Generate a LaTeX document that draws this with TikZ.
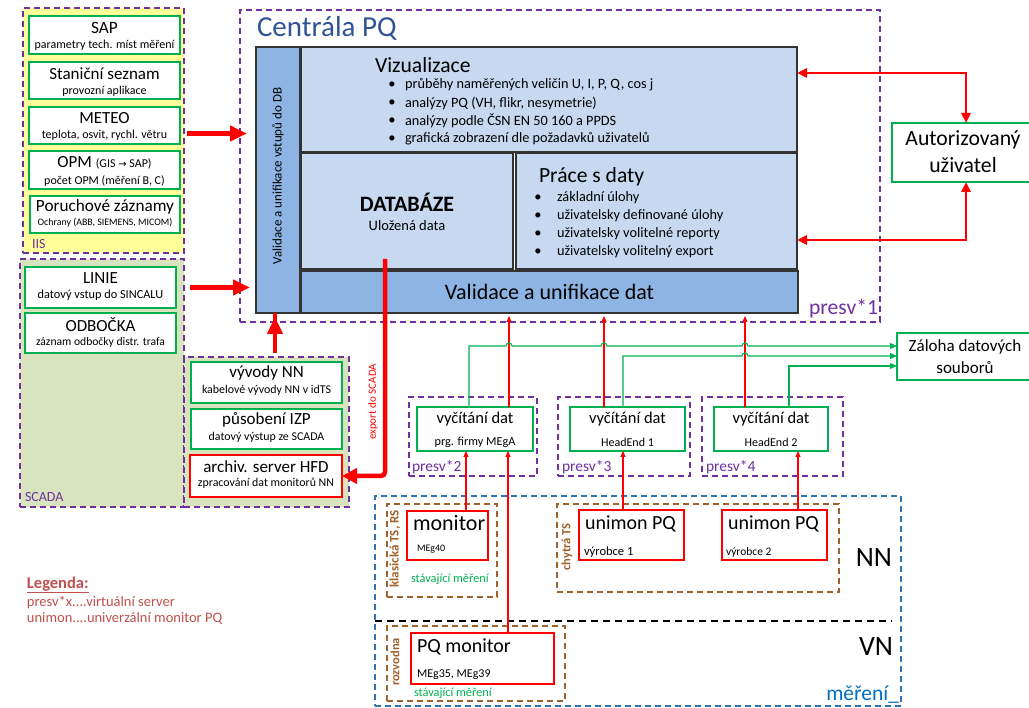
\documentclass[tikz,border=0pt]{standalone}
\usepackage{fontspec}
\setmainfont{Carlito}
\newfontfamily\djv{DejaVu Sans}
\usetikzlibrary{arrows.meta,calc}
\definecolor{cpurple}{HTML}{7030A0}
\definecolor{cgreen}{HTML}{00B050}
\definecolor{cred}{HTML}{FF0000}
\definecolor{cbrown}{HTML}{A0612A}
\definecolor{cblue}{HTML}{2E75B6}
\definecolor{cbluet}{HTML}{0070C0}
\definecolor{ctitle}{HTML}{2F5496}
\definecolor{clight}{HTML}{C6D9F1}
\definecolor{cmid}{HTML}{8DB4E2}
\definecolor{cyellow}{HTML}{FFFF99}
\definecolor{colive}{HTML}{D7E4BD}
\definecolor{clegend}{HTML}{C0504D}
\definecolor{cgtext}{HTML}{00B050}
\begin{document}
\begin{tikzpicture}[x=1pt,y=-1pt,
  every node/.style={inner sep=0pt, outer sep=0pt},
  grp/.style={draw=cpurple, line width=1.1pt, dash pattern=on 6pt off 4pt, rectangle, anchor=north west},
  gbox/.style={draw=cgreen, fill=white, line width=1.2pt, rectangle, anchor=north west},
  rbox/.style={draw=cred, fill=white, line width=1.2pt, rectangle, anchor=north west},
  cbox/.style={draw=black!80, line width=1.2pt, rectangle, anchor=north west},
  brgrp/.style={draw=cbrown, line width=1.1pt, dash pattern=on 6pt off 4pt, rectangle, anchor=north west},
  bigarr/.style={draw=cred, line width=4.5pt, -{Triangle[length=17pt,width=15pt]}},
  redarr/.style={draw=cred, line width=2.5pt},
  thinred/.style={draw=cred, line width=1.1pt, -{Triangle[length=6pt,width=5pt]}},
  grline/.style={draw=cgreen, line width=1.1pt, -{Triangle[length=7pt,width=6pt]}},
  fs/.style={font=\fontsize{#1}{#1}\selectfont},
  bfs/.style={font=\bfseries\fontsize{#1}{#1}\selectfont},
]
\useasboundingbox (0,0) rectangle (1029,708);

% ---------------- IIS group
\node[grp, fill=cyellow, minimum width=161, minimum height=245] (iis) at (23,8) {};
\node[gbox, minimum width=151, minimum height=38] (sap) at (29,16) {};
\node[fs=17.3] at ($(sap.north)+(0,12)$) {SAP};
\node[fs=12] at ($(sap.north)+(0,29)$) {parametry tech. míst měření};
\node[gbox, minimum width=151, minimum height=37] (stan) at (29,62) {};
\node[fs=17] at ($(stan.north)+(0,12)$) {Staniční seznam};
\node[fs=12] at ($(stan.north)+(0,29)$) {provozní aplikace};
\node[gbox, minimum width=151, minimum height=37] (meteo) at (29,107) {};
\node[fs=17] at ($(meteo.north)+(0,11)$) {METEO};
\node[fs=12] at ($(meteo.north)+(0,28)$) {teplota, osvit, rychl. větru};
\node[gbox, minimum width=151, minimum height=38] (opm) at (29,151) {};
\node[fs=17] at ($(opm.north)+(0,12)$) {OPM {\fontsize{12}{12}\selectfont(GIS {\djv\fontsize{10}{10}\selectfont→} SAP)}};
\node[fs=12] at ($(opm.north)+(0,30)$) {počet OPM (měření B, C)};
\node[gbox, minimum width=150, minimum height=37] (poru) at (30,196) {};
\node[fs=17.2] at ($(poru.north)+(0,11)$) {Poruchové záznamy};
\node[fs=9.9] at ($(poru.north)+(0,27)$) {Ochrany (ABB, SIEMENS, MICOM)};
\node[fs=14, text=cpurple, anchor=west] at ($(iis.south west)+(9,-9)$) {IIS};

% ---------------- SCADA group
\node[grp, fill=colive, minimum width=164, minimum height=248] (scada) at (20,259) {};
\node[grp, fill=colive, minimum width=165, minimum height=150] (scada2) at (184,357) {};
\node[gbox, minimum width=151, minimum height=41] (linie) at (25,267) {};
\node[fs=17] at ($(linie.north)+(0,11)$) {LINIE};
\node[fs=12.3] at ($(linie.north)+(0,28)$) {datový vstup do SINCALU};
\node[gbox, minimum width=151, minimum height=40] (odb) at (25,313) {};
\node[fs=17] at ($(odb.north)+(0,12)$) {ODBOČKA};
\node[fs=11.6] at ($(odb.north)+(0,29)$) {záznam odbočky distr. trafa};
\node[gbox, minimum width=151, minimum height=41] (vyv) at (191,362) {};
\node[fs=17] at ($(vyv.north)+(0,11)$) {vývody NN};
\node[fs=11.9] at ($(vyv.north)+(0,28)$) {kabelové vývody NN v idTS};
\node[gbox, minimum width=151, minimum height=40] (izp) at (191,409) {};
\node[fs=17] at ($(izp.north)+(0,11)$) {působení IZP};
\node[fs=11.9] at ($(izp.north)+(0,28)$) {datový výstup ze SCADA};
\node[rbox, minimum width=152, minimum height=42] (hfd) at (190,455) {};
\node[fs=17] at ($(hfd.north)+(0,12)$) {archiv. server HFD};
\node[fs=11.9] at ($(hfd.north)+(0,28)$) {zpracování dat monitorů NN};
\node[fs=14, text=cpurple, anchor=west] (scadalbl) at (25,497) {SCADA};

% ---------------- Centrala PQ
\node[grp, minimum width=640, minimum height=312] (centr) at (240,10) {};
\node[fs=29, text=ctitle, anchor=base west] (ctit) at (257,37) {Centrála PQ};
\node[cbox, fill=cmid, minimum width=44, minimum height=266] (vstup) at (256,47) {};
\node[fs=13, rotate=90] at ($(vstup.center)+(0,-4)$) {Validace a unifikace vstupů do DB};
\node[cbox, fill=clight, minimum width=496, minimum height=105] (viz) at (301,47) {};
\node[fs=21.6, anchor=west] at (375,65) {Vizualizace};
\foreach \yy/\tt in {85/{průběhy naměřených veličin U, I, P, Q, cos j},
                     103/{analýzy PQ (VH, flikr, nesymetrie)},
                     121/{analýzy podle ČSN EN 50 160 a PPDS},
                     139/{grafická zobrazení dle požadavků uživatelů}}{
  \node[fs=14.5] at (392,\yy) {•};
  \node[fs=14.3, anchor=west] at (405,\yy) {\tt};
}
\node[cbox, fill=clight, minimum width=212, minimum height=116] (db) at (301,153) {};
\node[bfs=22] at (407,202) {DATABÁZE};
\node[fs=14.5] at (407,226) {Uložená data};
\node[cbox, fill=clight, minimum width=281, minimum height=116] (prace) at (516,153) {};
\node[fs=21.6, anchor=west] at (539,177) {Práce s daty};
\foreach \yy/\tt in {198/{základní úlohy},
                     216/{uživatelsky definované úlohy},
                     234/{uživatelsky volitelné reporty},
                     252/{uživatelsky volitelný export}}{
  \node[fs=14.5] at (538,\yy) {•};
  \node[fs=14.3, anchor=west] at (557,\yy) {\tt};
}
\node[cbox, fill=cmid, minimum width=497, minimum height=42] (valid) at (301,271) {};
\node[fs=22] at (valid.center) {Validace a unifikace dat};
\node[fs=21.6, text=cpurple, anchor=base east] at (878,315) {presv*1};

% ---------------- right boxes
\node[gbox, minimum width=148, minimum height=59] (auth) at (892,123) {};
\node[fs=21.7] at ($(auth.north)+(-3,17)$) {Autorizovaný};
\node[fs=21.7] at ($(auth.north)+(-3,42)$) {uživatel};
\node[gbox, minimum width=136, minimum height=47] (zal) at (897,333) {};
\node[fs=17] at ($(zal.north)+(0,14)$) {Záloha datových};
\node[fs=17] at ($(zal.north)+(0,35)$) {souborů};

% ---------------- arrows into centrala
\draw[bigarr] ($(iis.east)+(3,3)$) -- ($(vstup.west |- iis.east)+(-9,3)$);
\draw[bigarr] ($(linie.east)+(14,0)$) -- ($(vstup.west |- linie.east)+(-6,0)$);
\coordinate (upA) at ($(vyv.north)+(8.5,-9)$);
\draw[bigarr] (upA) -- (upA |- vstup.south) ++(0,4);
\coordinate (ex) at ($(db.south west)+(84,-10)$);
\draw[draw=cred, line width=4.5pt, rounded corners=4pt, -{Triangle[length=15pt,width=15pt]}] (ex) |- (hfd.east);
\node[fs=11, text=cred, rotate=90] at (373,402) {export do SCADA};

% autorizovany arrows
\coordinate (ra) at ($(viz.north east)+(0,26)$);
\draw[redarr, {Triangle[length=10pt,width=9pt]}-{Triangle[length=10pt,width=9pt]}] (ra) -| (auth.north);
\coordinate (rb) at ($(prace.south east)+(0,-29)$);
\draw[redarr, {Triangle[length=10pt,width=9pt]}-{Triangle[length=10pt,width=9pt]}] (rb) -| (auth.south);

% ---------------- vycitani
\node[grp, minimum width=128, minimum height=79] (p2) at (409,397) {};
\node[grp, minimum width=132, minimum height=79] (p3) at (558,397) {};
\node[grp, minimum width=141, minimum height=79] (p4) at (702,397) {};
\node[fs=15.5, text=cpurple, anchor=base west] at (412,472) {presv*2};
\node[fs=15.5, text=cpurple, anchor=base west] at (562,472) {presv*3};
\node[fs=15.5, text=cpurple, anchor=base west] at (706,472) {presv*4};
\node[gbox, minimum width=116, minimum height=44] (v1) at (417,407) {};
\node[gbox, minimum width=115, minimum height=44] (v2) at (570,407) {};
\node[gbox, minimum width=114, minimum height=44] (v3) at (714,407) {};
\node[fs=16.5] at ($(v1.north)+(0,12)$) {vyčítání dat};
\node[fs=12.2] at ($(v1.north)+(0,35)$) {prg. firmy MEgA};
\node[fs=16.5] at ($(v2.north)+(0,12)$) {vyčítání dat};
\node[fs=12] at ($(v2.north)+(0,35)$) {HeadEnd 1};
\node[fs=16.5] at ($(v3.north)+(0,12)$) {vyčítání dat};
\node[fs=12] at ($(v3.north)+(0,35)$) {HeadEnd 2};

% red up to validace
\coordinate (vb) at ($(valid.south)+(0,3)$);
\coordinate (r1) at ($(v1.north west)+(92,0)$);
\coordinate (r2) at ($(v2.north west)+(34,0)$);
\coordinate (r3) at ($(v3.north west)+(31,0)$);
\draw[thinred] (r1) -- (r1 |- vb);
\draw[thinred] (r2) -- (r2 |- vb);
\draw[thinred] (r3) -- (r3 |- vb);

% green to zaloha
\coordinate (g1) at ($(v1.north west)+(52,0)$);
\coordinate (g2) at ($(v2.north west)+(53,0)$);
\coordinate (g3) at ($(v3.north west)+(75,0)$);
\coordinate (z1) at ($(zal.north west)+(0,13)$);
\coordinate (z2) at ($(zal.north west)+(0,23)$);
\coordinate (z3) at ($(zal.north west)+(0,33)$);
\draw[grline] (g1) -- (g1 |- z1) -- ($(r1 |- z1)+(-3,0)$) arc[start angle=180,end angle=360,radius=3]
  -- ($(r2 |- z1)+(-3,0)$) arc[start angle=180,end angle=360,radius=3]
  -- ($(r3 |- z1)+(-3,0)$) arc[start angle=180,end angle=360,radius=3] -- (z1);
\draw[grline] (g2) -- (g2 |- z2) -- ($(r3 |- z2)+(-3,0)$) arc[start angle=180,end angle=360,radius=3] -- (z2);
\draw[grline] (g3) -- (g3 |- z3) -- (z3);

% ---------------- mereni area
\node[draw=cblue, line width=1.1pt, dash pattern=on 6pt off 4pt, rectangle, anchor=north west, minimum width=526, minimum height=210] (meas) at (375,496) {};
\draw[black, line width=1.1pt, dash pattern=on 7pt off 5pt] (375,621) -- (892,621);
\node[fs=28, anchor=east] at (892,558) {NN};
\node[fs=28, anchor=east] at (893,647) {VN};
\node[fs=21.5, text=cbluet, anchor=base east] at (899,700) {měření\_};

\node[brgrp, minimum width=110, minimum height=93] (kl) at (387,504) {};
\node[brgrp, minimum width=178, minimum height=75] (rozv) at (387,626) {};
\node[brgrp, minimum width=282, minimum height=88] (chyt) at (557,504) {};
\node[bfs=13, text=cbrown, rotate=90] at (395,549) {klasická TS, RS};
\node[bfs=12.5, text=cbrown, rotate=90] at (395,662) {rozvodna};
\node[bfs=12.5, text=cbrown, rotate=90] at (567,547) {chytrá TS};

\node[rbox, minimum width=81, minimum height=49] (mon) at (407,511) {};
\node[fs=22, anchor=base west] at (413,531) {monitor};
\node[fs=10, anchor=base west] at (417,552) {MEg40};
\node[fs=12.3, text=cgtext, anchor=base west] at (411,583) {stávající měření};

\node[rbox, minimum width=143, minimum height=51] (pqm) at (411,633) {};
\node[fs=20, anchor=base west] at (417,652) {PQ monitor};
\node[fs=12, anchor=base west] at (417,677) {MEg35, MEg39};
\node[fs=12.3, text=cgtext, anchor=base west] at (414,696) {stávající měření};

\node[rbox, minimum width=105, minimum height=50] (u1) at (579,510) {};
\node[fs=20, anchor=base west] at (585,530) {unimon PQ};
\node[fs=12.5, anchor=base west] at (584,555) {výrobce 1};
\node[rbox, minimum width=105, minimum height=50] (u2) at (722,510) {};
\node[fs=20, anchor=base west] at (728,530) {unimon PQ};
\node[fs=11.5, anchor=base west] at (726,555) {výrobce 2};

% red up into vycitani
\coordinate (m1) at ($(mon.north west)+(59,0)$);
\coordinate (m2) at ($(pqm.north west)+(97,0)$);
\coordinate (m3) at ($(u1.north west)+(44,0)$);
\coordinate (m4) at ($(u2.north west)+(76,0)$);
\draw[thinred] (m1) -- (m1 |- v1.south);
\draw[thinred] (m2) -- (m2 |- v1.south);
\draw[thinred] (m3) -- (m3 |- v2.south);
\draw[thinred] (m4) -- (m4 |- v3.south);

% ---------------- legend
\node[bfs=16.5, text=clegend, anchor=base west] at (27,588) {\underline{Legenda:}};
\node[fs=14.5, text=clegend, anchor=base west] at (27,606) {presv*x....virtuální server};
\node[fs=14.5, text=clegend, anchor=base west] at (27,623) {unimon....univerzální monitor PQ};
\end{tikzpicture}
\end{document}
